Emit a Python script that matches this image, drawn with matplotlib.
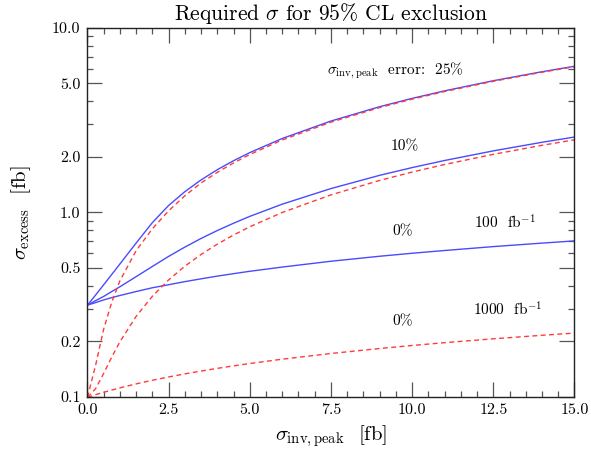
import matplotlib
matplotlib.use("Agg")
import matplotlib.pyplot as plt
from matplotlib.ticker import FixedLocator, FixedFormatter, NullFormatter

plt.rcParams['font.family'] = ['cmr10', 'DejaVu Serif']
plt.rcParams['mathtext.fontset'] = 'cm'
plt.rcParams['axes.formatter.use_mathtext'] = True

# data
x_vals = [0, 0.25, 0.5, 0.75, 1, 1.5, 2, 2.5, 3, 3.5, 4, 4.5, 5, 6, 7.5, 9, 10, 11, 12.5, 14, 15]

blue_0 = [0.314, 0.324, 0.335, 0.345, 0.354, 0.372, 0.390, 0.405, 0.421, 0.436, 0.451, 0.465,
          0.479, 0.505, 0.543, 0.578, 0.600, 0.621, 0.652, 0.681, 0.700]
blue_10 = [0.314, 0.332, 0.350, 0.372, 0.395, 0.448, 0.509, 0.577, 0.648, 0.722, 0.797, 0.873,
           0.951, 1.108, 1.346, 1.588, 1.749, 1.911, 2.155, 2.399, 2.562]
blue_25 = [0.314, 0.356, 0.405, 0.461, 0.525, 0.682, 0.880, 1.090, 1.295, 1.500, 1.704, 1.906,
           2.109, 2.516, 3.128, 3.742, 4.151, 4.561, 5.176, 5.791, 6.201]
red_0 = [0.0993, 0.1026, 0.1057, 0.1087, 0.1117, 0.1174, 0.1228, 0.1280, 0.1330, 0.1378,
         0.1425, 0.1470, 0.1514, 0.1598, 0.1716, 0.1826, 0.1896, 0.1964, 0.2061, 0.2154, 0.2214]
red_10 = [0.0993, 0.1105, 0.1339, 0.1643, 0.1987, 0.2730, 0.3508, 0.4302, 0.5105, 0.5913,
          0.6725, 0.7538, 0.8353, 0.9987, 1.244, 1.490, 1.654, 1.818, 2.064, 2.310, 2.475]
red_25 = [0.0993, 0.1480, 0.2330, 0.3267, 0.4257, 0.6200, 0.8150, 1.020, 1.230, 1.444,
          1.649, 1.854, 2.060, 2.470, 3.086, 3.702, 4.112, 4.523, 5.139, 5.755, 6.166]

x_ticks = [0, 2.5, 5, 7.5, 10, 12.5, 15]
x_tick_labels = ["0.0", "2.5", "5.0", "7.5", "10.0", "12.5", "15.0"]
y_ticks = [0.1, 0.2, 0.5, 1, 2, 5, 10]
y_tick_labels = ["0.1", "0.2", "0.5", "1.0", "2.0", "5.0", "10.0"]
y_minor = [0.3, 0.4, 0.6, 0.7, 0.8, 0.9, 3, 4, 6, 7, 8, 9]
x_minor = [v * 0.5 for v in range(31)]

blue = '#4a4aff'
red = '#ff3b3b'
dash = (0, (3.5, 2.5))

fig = plt.figure(figsize=(5.91, 4.5), dpi=100)
ax = fig.add_axes([0.148, 0.1184, 0.824, 0.8194])

ax.plot(x_vals, blue_0, color=blue, lw=1.0)
ax.plot(x_vals, blue_10, color=blue, lw=1.0)
ax.plot(x_vals, blue_25, color=blue, lw=1.0)
ax.plot(x_vals, red_0, color=red, lw=1.0, ls=dash)
ax.plot(x_vals, red_10, color=red, lw=1.0, ls=dash)
ax.plot(x_vals, red_25, color=red, lw=1.0, ls=dash)

ax.set_yscale('log')
ax.set_xlim(0, 15)
ax.set_ylim(0.1, 10)

ax.xaxis.set_major_locator(FixedLocator(x_ticks))
ax.xaxis.set_major_formatter(FixedFormatter(x_tick_labels))
ax.xaxis.set_minor_locator(FixedLocator(x_minor))
ax.yaxis.set_major_locator(FixedLocator(y_ticks))
ax.yaxis.set_major_formatter(FixedFormatter(y_tick_labels))
ax.yaxis.set_minor_locator(FixedLocator(y_minor))
ax.yaxis.set_minor_formatter(NullFormatter())

ax.tick_params(which='both', direction='in', top=True, right=True, color='#555555',
               width=0.9, labelsize=11.5)
ax.tick_params(which='major', length=10.5, pad=5)
ax.tick_params(which='minor', length=4)
for s in ax.spines.values():
    s.set_linewidth(1.0)
    s.set_color('#222222')

ax.set_title(r"Required $\sigma$ for 95% CL exclusion", fontsize=15.5, pad=6)
ax.set_xlabel(r"$\sigma_{\rm inv,peak}$  [fb]", fontsize=15, labelpad=4)
ax.set_ylabel(r"$\sigma_{\rm excess}$  [fb]", fontsize=15, labelpad=14)

ax.text(9.48, 5.85, r"$\sigma_{\rm inv,peak}$  error:  25%", fontsize=11, ha='center', va='center')
ax.text(9.78, 2.27, "10%", fontsize=11, ha='center', va='center')
ax.text(9.7, 0.786, "0%", fontsize=11, ha='center', va='center')
ax.text(9.7, 0.255, "0%", fontsize=11, ha='center', va='center')
ax.text(12.85, 0.88, r"100  fb$^{-1}$", fontsize=11, ha='center', va='center')
ax.text(12.95, 0.295, r"1000  fb$^{-1}$", fontsize=11, ha='center', va='center')

fig.savefig("out.png", dpi=100)
